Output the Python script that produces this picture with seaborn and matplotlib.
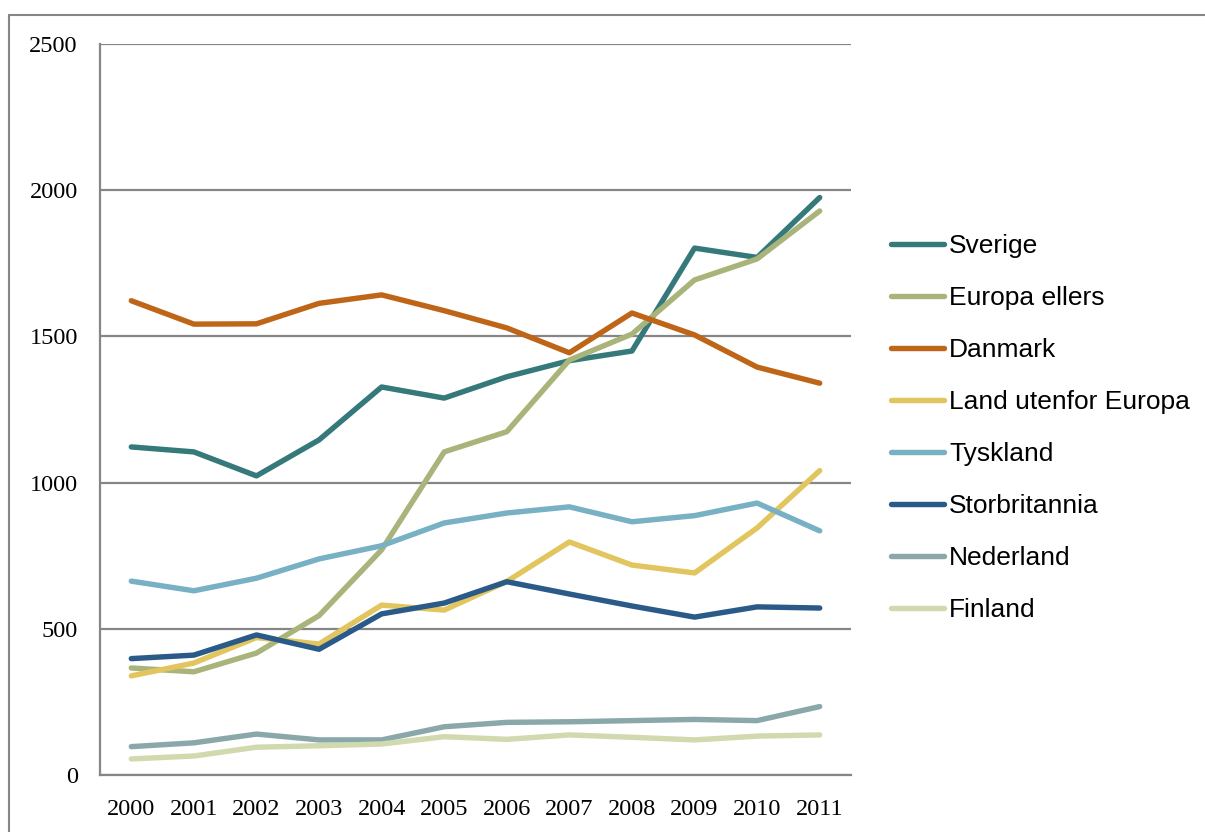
import numpy as np
import pandas as pd
import matplotlib
matplotlib.use('Agg')
import matplotlib.pyplot as plt
from matplotlib.lines import Line2D
import seaborn as sns

years = [str(y) for y in range(2000, 2012)]

sverige = [1122, 1105, 1023, 1146, 1327, 1289, 1362, 1417, 1450, 1802, 1770, 1975]
europa_ellers = [366, 353, 417, 545, 770, 1105, 1174, 1419, 1508, 1693, 1765, 1929]
danmark = [1622, 1542, 1543, 1613, 1642, 1588, 1529, 1444, 1580, 1505, 1395, 1340]
land_utenfor = [339, 383, 470, 448, 581, 564, 662, 797, 718, 691, 845, 1041]
tyskland = [663, 630, 673, 739, 784, 862, 896, 917, 866, 887, 930, 835]
storbritannia = [398, 410, 479, 430, 551, 588, 661, 619, 578, 540, 575, 571]
nederland = [97, 110, 140, 120, 120, 165, 180, 182, 186, 190, 186, 234]
finland = [55, 65, 95, 100, 106, 131, 122, 137, 129, 120, 133, 137]

series = ['Sverige', 'Europa ellers', 'Danmark', 'Land utenfor Europa',
          'Tyskland', 'Storbritannia', 'Nederland', 'Finland']
values = [sverige, europa_ellers, danmark, land_utenfor,
          tyskland, storbritannia, nederland, finland]
colors = ['#35797a', '#a9b47a', '#be6518', '#e2c55e',
          '#78b0c4', '#2a5a88', '#8aa8aa', '#d1d9af']

rows = []
for name, vals in zip(series, values):
    for i, v in enumerate(vals):
        rows.append({'pos': i, 'year': years[i], 'land': name, 'antall': v})
df = pd.DataFrame(rows)

sns.set_style('white')
plt.rcParams['font.family'] = ['Liberation Serif', 'DejaVu Serif']

fig = plt.figure(figsize=(12.05, 8.32), dpi=100)
ax = fig.add_axes([100 / 1205, 57 / 832, 751 / 1205, 731 / 832])

sns.lineplot(data=df, x='pos', y='antall', hue='land', hue_order=series,
             palette=colors, linewidth=3.9, sort=False, ax=ax,
             solid_capstyle='round', legend=False)

grey = '#868686'
ax.set_xlim(-0.5, 11.5)
ax.set_ylim(0, 2500)
ax.set_yticks(range(0, 2501, 500))
ax.yaxis.grid(True, color=grey, linewidth=1.6)
ax.set_axisbelow(True)
# category boundaries carry the tick marks, labels sit between them
ax.set_xticks(np.arange(-0.5, 11.6, 1))
ax.set_xticklabels([])
ax.set_xticks(range(12), minor=True)
ax.set_xticklabels(years, minor=True)
ax.tick_params(axis='x', which='minor', length=0, pad=17, labelsize=17.5, labelcolor='black')
ax.tick_params(axis='x', which='major', length=5, width=1.6, color=grey, direction='out')
ax.tick_params(axis='y', length=5, width=1.6, color=grey, direction='out', pad=11,
               labelsize=17.5, labelcolor='black')
for s in ['top', 'right']:
    ax.spines[s].set_visible(False)
for s in ['left', 'bottom']:
    ax.spines[s].set_color(grey)
    ax.spines[s].set_linewidth(1.6)
ax.set_xlabel('')
ax.set_ylabel('')

# legend
handles = [Line2D([0], [0], color=c, linewidth=3.9, solid_capstyle='round') for c in colors]
leg = fig.legend(handles, series, loc='upper left', bbox_to_anchor=(891 / 1205, 1 - 234 / 832),
                 frameon=False, handlelength=2.0, handletextpad=0.2, labelspacing=1.06,
                 borderaxespad=0, borderpad=0,
                 prop={'family': ['Liberation Sans', 'DejaVu Sans'], 'size': 19})
for t in leg.get_texts():
    t.set_color('black')

# frame around chart
fig.add_artist(Line2D([9 / 1205, 9 / 1205], [0, 1 - 15 / 832], color=grey, linewidth=1.5,
                      transform=fig.transFigure))
fig.add_artist(Line2D([9 / 1205, 1], [1 - 15 / 832, 1 - 15 / 832], color=grey, linewidth=1.5,
                      transform=fig.transFigure))

fig.savefig('out.png', dpi=100)
